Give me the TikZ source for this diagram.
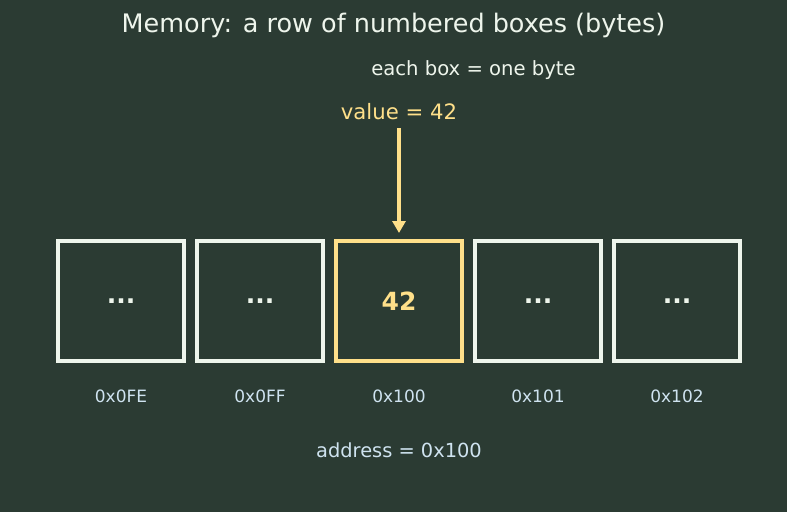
\documentclass[tikz,border=0pt]{standalone}
\usepackage{fontspec}
\setmainfont{DejaVu Sans}
\usetikzlibrary{arrows.meta}
\definecolor{bg}{HTML}{2B3B33}
\definecolor{boxline}{HTML}{EEF5EC}
\definecolor{hl}{HTML}{FFE08A}
\definecolor{addr}{HTML}{CFE3F0}
\definecolor{ttl}{HTML}{EEF5EC}
\begin{document}
\begin{tikzpicture}[x=1pt,y=-1pt,
  cell/.style={draw=boxline, line width=4pt, minimum width=126pt, minimum height=120pt, inner sep=0pt, text=boxline, font=\fontsize{25}{29}\selectfont\bfseries},
  hcell/.style={cell, draw=hl, text=hl},
  addrlab/.style={text=addr, font=\fontsize{17}{20}\selectfont, inner sep=0pt},
  ptr/.style={draw=hl, line width=3.5pt, -{Stealth[length=12pt,width=13pt,inset=0pt]}}]
\fill[bg] (0,0) rectangle (787,512);
\useasboundingbox (0,0) rectangle (787,512);
\node[text=ttl, font=\fontsize{25.5}{30}\selectfont, inner sep=0pt] (title) at (393.5,25) {Memory: a row of numbered boxes (bytes)};
\node[text=ttl, font=\fontsize{19.6}{23}\selectfont, inner sep=0pt] (sub) at (473.5,70) {each box = one byte};
\node[text=hl, font=\fontsize{21.2}{25}\selectfont, inner sep=0pt] (val) at (399,112) {value = 42};
\node[cell] (b1) at (121,301) {...};
\node[cell] (b2) at (260,301) {...};
\node[hcell] (b3) at (399,301) {42};
\node[cell] (b4) at (538,301) {...};
\node[cell] (b5) at (677,301) {...};
\node[addrlab] (a1) at (121,396) {0x0FE};
\node[addrlab] (a2) at (260,396) {0x0FF};
\node[addrlab] (a3) at (399,396) {0x100};
\node[addrlab] (a4) at (538,396) {0x101};
\node[addrlab] (a5) at (677,396) {0x102};
\node[text=addr, font=\fontsize{19.4}{23}\selectfont, inner sep=0pt] (address) at (399,450) {address = 0x100};
\coordinate (s) at (399,128);
\draw[ptr] (s) -- ([yshift=6pt]b3.north);
\end{tikzpicture}
\end{document}
